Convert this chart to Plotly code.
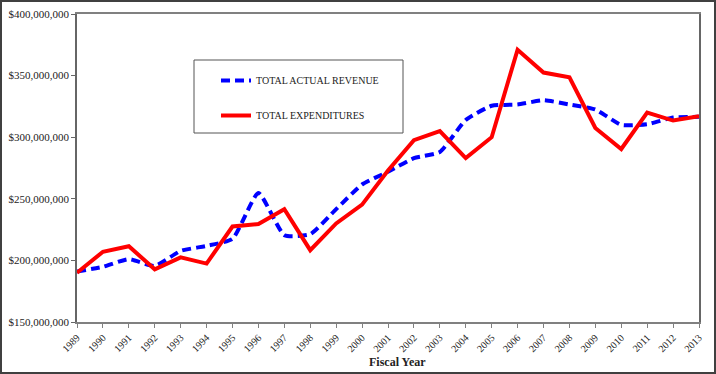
import plotly.graph_objects as go

years = [str(y) for y in range(1989, 2014)]
revenue = [191.0, 194.8, 201.0, 195.5, 207.7, 211.8, 217.5, 254.7, 220.5, 221.3, 241.6,
           261.6, 272.0, 283.0, 288.0, 314.0, 325.5, 326.5, 330.0, 326.5, 322.5, 310.0,
           310.5, 316.0, 316.5]
expenditures = [190.0, 207.0, 211.5, 192.8, 202.5, 197.4, 227.5, 229.5, 241.6, 208.3, 230.0,
                245.3, 273.0, 297.6, 305.0, 283.0, 300.0, 371.0, 352.5, 348.6, 307.5, 290.4,
                320.0, 313.5, 317.0]
revenue = [v * 1e6 for v in revenue]
expenditures = [v * 1e6 for v in expenditures]
y_ticks = [150e6, 200e6, 250e6, 300e6, 350e6, 400e6]

FONT = "Liberation Serif"

fig = go.Figure()
fig.add_trace(go.Scatter(x=years, y=revenue, mode="lines", name="TOTAL ACTUAL REVENUE",
                         line=dict(color="#0000FF", width=4, dash="9px,5px", shape="spline", smoothing=0.5),
                         legendgroup="a"))
fig.add_trace(go.Scatter(x=years, y=expenditures, mode="lines", name="TOTAL EXPENDITURES",
                         line=dict(color="#FF0000", width=4), legendgroup="b"))

L, R, T, B = 77, 17, 14, 52
W, H = 716, 374
pw, ph = W - L - R, H - T - B

def px(x):
    return (x - L) / pw

def py(y):
    return (H - B - y) / ph

fig.update_layout(
    width=W, height=H,
    margin=dict(l=L, r=R, t=T, b=B, autoexpand=False),
    paper_bgcolor="white", plot_bgcolor="white",
    font=dict(family=FONT, size=11, color="#222222"),
    showlegend=True,
    legend=dict(x=px(216), y=py(66), xanchor="left", yanchor="top",
                bgcolor="rgba(0,0,0,0)", borderwidth=0,
                font=dict(family=FONT, size=10, color="#222222"),
                tracegroupgap=16, traceorder="grouped"),
    xaxis=dict(type="category", range=[0, 24], showgrid=False, tickangle=-45, automargin=False,
               showline=True, linecolor="#808080", linewidth=2, mirror=True,
               ticks="outside", ticklen=4, tickcolor="#808080", tickfont=dict(size=10)),
    yaxis=dict(range=[150e6, 400e6], tickvals=y_ticks, tickformat="$,d", automargin=False,
               showgrid=False, zeroline=False,
               showline=True, linecolor="#666666", linewidth=1.5, mirror=True,
               ticks="outside", ticklen=4, tickcolor="#666666"),
    shapes=[
        dict(type="rect", xref="paper", yref="paper", x0=px(194), x1=px(403), y0=py(133), y1=py(60),
             line=dict(color="#555555", width=1), fillcolor="rgba(0,0,0,0)", layer="above"),
        dict(type="rect", xref="paper", yref="paper", x0=px(1), x1=px(715), y0=py(373), y1=py(1),
             line=dict(color="#404040", width=2), fillcolor="rgba(0,0,0,0)"),
    ],
    annotations=[
        dict(text="<b>Fiscal Year</b>", xref="paper", yref="paper", x=px(398), y=py(362),
             xanchor="center", yanchor="middle", showarrow=False,
             font=dict(family=FONT, size=12, color="#222222")),
    ],
)

fig.write_html("out.html", config={"displayModeBar": False},
               post_script="document.body.style.margin='0px';")
